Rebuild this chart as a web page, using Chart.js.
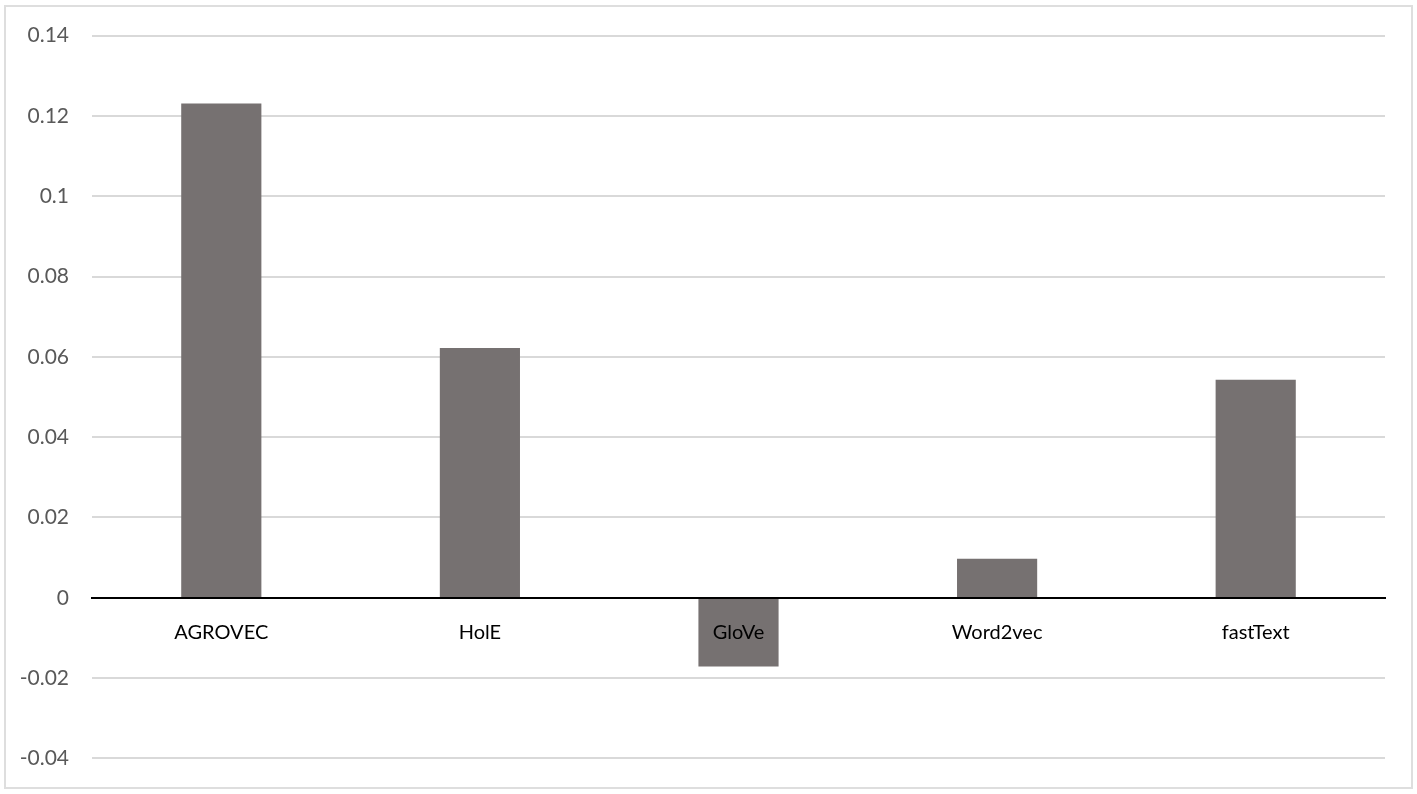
<!DOCTYPE html>
<html>
<head>
<meta charset="utf-8">
<script src="https://cdn.jsdelivr.net/npm/chart.js@4/dist/chart.umd.min.js"></script>
<style>
  html, body { margin: 0; padding: 0; background: #fff; }
  #frame {
    position: absolute; left: 4px; top: 5px; width: 1405px; height: 780px;
    border: 2px solid #dedede;
  }
  #wrap { position: absolute; left: 0; top: 0; width: 1417px; height: 794px; }
</style>
</head>
<body>
<div id="frame"></div>
<div id="wrap"><canvas id="chart"></canvas></div>
<script>
const categories = ['AGROVEC', 'HolE', 'GloVe', 'Word2vec', 'fastText']
const scores = [0.1231, 0.0622, -0.0171, 0.0097, 0.0543]
const yTicks = { min: -0.04, max: 0.14, step: 0.02 }

const ctx = document.getElementById('chart')

const chart = new Chart(ctx, {
    type: 'bar',
    data: {
        labels: categories,
        datasets: [{
            data: scores,
            backgroundColor: '#767171',
            borderWidth: 0,
            categoryPercentage: 1,
            barPercentage: 0.31,
        }]
    },
    options: {
        responsive: true,
        maintainAspectRatio: false,
        animation: false,
        layout: {
            padding: { left: 0, right: 32, top: 35, bottom: 32 }
        },
        plugins: {
            legend: { display: false },
            tooltip: { enabled: false }
        },
        scales: {
            x: {
                position: { y: 0 },
                grid: { display: false },
                // border and labels over the bars, like the GloVe label
                border: { display: true, color: '#000', width: 2, z: 1 },
                ticks: {
                    z: 1,
                    color: '#000',
                    padding: 15,
                    maxRotation: 0,
                    autoSkip: false,
                    font: { family: 'Lato', size: 20 }
                },
                afterFit: scale => { scale.height = 0 }
            },
            y: {
                min: yTicks.min,
                max: yTicks.max,
                border: { display: false },
                grid: { color: '#d9d9d9', lineWidth: 2, drawTicks: false },
                ticks: {
                    stepSize: yTicks.step,
                    color: '#595959',
                    padding: 23,
                    font: { family: 'Lato', size: 21 },
                    callback: v => String(Number(v.toFixed(2)))
                },
                afterFit: scale => { scale.width = 92 }
            }
        }
    }
})
</script>
</body>
</html>
